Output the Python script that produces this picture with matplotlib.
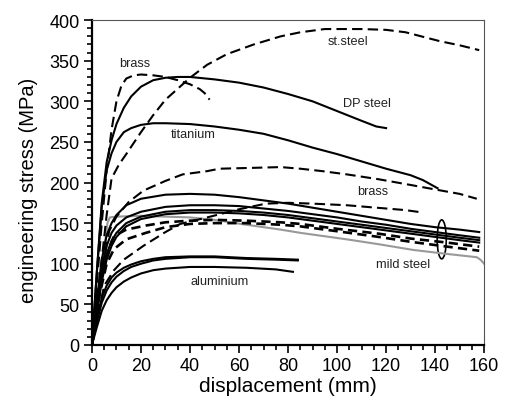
import matplotlib
matplotlib.use("Agg")
import matplotlib.pyplot as plt
from matplotlib.patches import Ellipse
from matplotlib.ticker import MultipleLocator

plt.rcParams['font.family'] = ['Liberation Sans', 'DejaVu Sans']

# ---- data (x: displacement mm, y: stress MPa) ----
brass_hi_x = [0, 2, 4, 6, 8, 10, 12, 14, 17, 20, 25, 30, 35, 40, 44, 46, 48]
brass_hi_y = [0, 75, 150, 215, 265, 300, 319, 328, 332, 333, 332, 330, 326, 321, 315, 310, 302]

dp_x = [0, 2, 4, 6, 8, 10, 13, 16, 20, 25, 30, 35, 40, 50, 60, 70, 80, 90, 100, 110, 116, 120]
dp_y = [0, 90, 175, 225, 252, 272, 292, 306, 318, 326, 329, 330, 330, 327, 323, 317, 309, 300, 288, 276, 269, 267]

ti_x = [0, 2, 4, 6, 8, 10, 13, 16, 20, 25, 30, 40, 50, 60, 70, 80, 90, 100, 110, 120, 130, 135, 141]
ti_y = [0, 90, 170, 215, 236, 250, 262, 267, 271, 273, 273, 272, 269, 265, 260, 252, 243, 235, 226, 217, 209, 203, 193]

ss_x = [0, 2, 4, 6, 8, 11, 14, 20, 25, 30, 40, 47, 55, 66, 77, 85, 95, 110, 120, 128, 142, 150, 158]
ss_y = [0, 50, 105, 160, 205, 222, 235, 262, 283, 302, 329, 345, 358, 370, 380, 385, 389, 389, 388, 385, 374, 369, 363]

brass_mid_x = [0, 2, 4, 7, 10, 15, 21, 30, 37, 47, 52, 65, 77, 85, 94, 104, 117, 130, 139, 150, 157]
brass_mid_y = [0, 45, 90, 140, 158, 176, 190, 202, 210, 214, 217, 218, 219, 217, 214, 210, 204, 197, 192, 186, 180]

brass_lo_x = [0, 3, 5, 9, 13, 21, 30, 36, 47, 60, 71, 80, 90, 104, 120, 128, 135]
brass_lo_y = [0, 45, 73, 92, 105, 122, 139, 149, 157, 167, 174, 175, 174, 172, 168, 166, 163]

s1_x = [0, 2, 4, 6, 8, 10, 14, 20, 30, 40, 50, 60, 70, 80, 90, 100, 110, 120, 130, 140, 150, 158]
s1_y = [0, 55, 105, 135, 150, 160, 172, 180, 185, 186, 185, 182, 178, 174, 169, 164, 159, 154, 149, 145, 142, 139]
s2_y = [0, 50, 95, 122, 138, 147, 157, 164, 170, 172, 172, 171, 168, 165, 161, 157, 152, 148, 143, 139, 135, 132]
s3_y = [0, 45, 85, 112, 128, 138, 150, 158, 164, 166, 166, 165, 163, 160, 156, 152, 148, 144, 140, 136, 132, 129]
s4_y = [0, 40, 78, 105, 122, 133, 146, 155, 161, 163, 163, 162, 160, 157, 153, 149, 145, 141, 137, 133, 129, 126]

d_x = [0, 3, 6, 9, 14, 22, 30, 40, 50, 63, 77, 85, 100, 117, 130, 145, 158]
d1_y = [0, 70, 112, 134, 142, 147, 151, 153, 154, 153, 151, 149, 143, 137, 131, 126, 121]
d2_y = [0, 60, 100, 118, 130, 138, 145, 149, 150, 150, 148, 146, 140, 133, 127, 121, 116]

mild_x = [0, 3, 5, 6.3, 7.3, 10, 20, 30, 40, 50, 63, 77, 85, 104, 117, 131, 145, 157, 158.5, 160]
mild_y = [0, 60, 115, 150, 157, 158, 159, 158, 157, 154, 148, 142, 138, 130, 124, 117, 112, 108, 105, 100]

al_x = [0, 2, 4, 6, 8, 10, 13, 16, 20, 25, 30, 40, 50, 63, 75, 84]
al1_y = [0, 32, 58, 73, 83, 89, 95, 99, 103, 106, 108, 109, 109, 107, 106, 105]
al2_y = [0, 28, 52, 67, 77, 84, 91, 96, 100, 104, 106, 108, 108, 106, 105, 104]
al3_x = [0, 2, 4, 6, 8, 10, 13, 16, 20, 25, 30, 40, 50, 63, 75, 82]
al3_y = [0, 22, 42, 55, 64, 71, 78, 83, 88, 92, 94, 96, 96, 95, 93, 90]

labels = [("brass", 17.5, 347), ("st.steel", 104.5, 374), ("DP steel", 112, 298),
          ("titanium", 41.5, 260), ("brass", 114.5, 189), ("aluminium", 52, 79),
          ("mild steel", 127, 100)]

fig = plt.figure(figsize=(5.08, 4.06), dpi=100)
ax = fig.add_axes([0.181, 0.148, 0.772, 0.800])

lw = 1.5
long_dash = (0, (5, 2.5))
short_dash = (0, (3.5, 2))

ax.plot(mild_x, mild_y, color='#999999', lw=lw)
ax.plot(al_x, al1_y, color='k', lw=lw)
ax.plot(al_x, al2_y, color='k', lw=lw)
ax.plot(al3_x, al3_y, color='k', lw=lw)
ax.plot(d_x, d1_y, color='k', lw=1.9, ls=short_dash)
ax.plot(d_x, d2_y, color='k', lw=1.9, ls=short_dash)
for yy in (s1_y, s2_y, s3_y, s4_y):
    ax.plot(s1_x, yy, color='k', lw=lw)
ax.plot(brass_lo_x, brass_lo_y, color='k', lw=lw, ls=long_dash)
ax.plot(brass_mid_x, brass_mid_y, color='k', lw=lw, ls=long_dash)
ax.plot(ti_x, ti_y, color='k', lw=lw)
ax.plot(dp_x, dp_y, color='k', lw=lw)
ax.plot(ss_x, ss_y, color='k', lw=lw, ls=long_dash)
ax.plot(brass_hi_x, brass_hi_y, color='k', lw=lw, ls=long_dash)

ax.add_patch(Ellipse((142.7, 130), 3.7, 48, fill=False, edgecolor='k', lw=1.2))

for txt, x, y in labels:
    ax.text(x, y, txt, fontsize=9.2, color='#222222', ha='center', va='center')

ax.set_xlim(0, 160)
ax.set_ylim(0, 400)
ax.xaxis.set_major_locator(MultipleLocator(20))
ax.xaxis.set_minor_locator(MultipleLocator(5))
ax.yaxis.set_major_locator(MultipleLocator(50))
ax.yaxis.set_minor_locator(MultipleLocator(10))
ax.tick_params(which='both', direction='out', top=False, right=False, labelsize=13, width=1.2)
ax.tick_params(which='major', length=6, pad=3)
ax.tick_params(which='minor', length=3.5)
for s in ('left', 'bottom'):
    ax.spines[s].set_linewidth(1.6)
for s in ('top', 'right'):
    ax.spines[s].set_linewidth(0.8)
    ax.spines[s].set_color('#555555')

ax.set_xlabel("displacement (mm)", fontsize=15, labelpad=1)
ax.set_ylabel("engineering stress (MPa)", fontsize=14.5)
ax.yaxis.set_label_coords(-0.137, 0.48)

fig.savefig("out.png", dpi=100)
